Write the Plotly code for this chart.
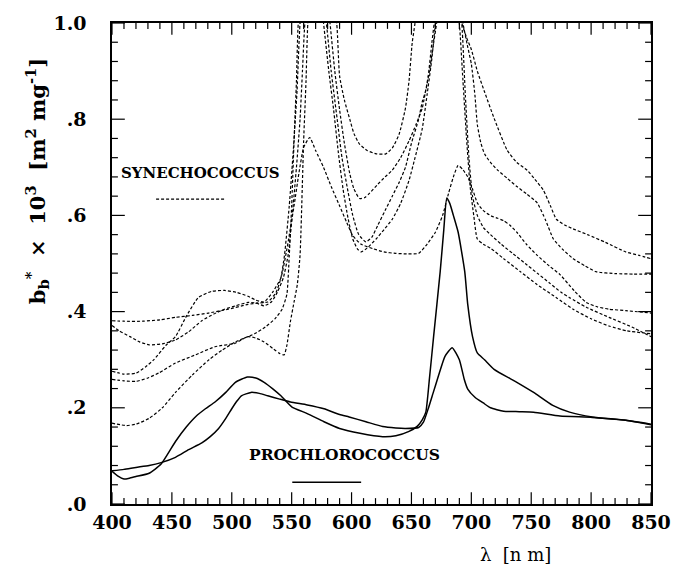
import plotly.graph_objects as go

# ---------------- data ----------------
# Prochlorococcus (solid)
pro1_x = [400,405,410,415,420,431,441,453,462,470,478,486,495,503,513,520,527,534,541,550,563,577,590,607,626,637,648,655,659,662,665,668.5,674,677,679.5,682,685,689,694.5,697,701,705,711,719,738,752,768,782,801,829,850]
pro1_y = [0.068,0.058,0.052,0.054,0.057,0.064,0.083,0.13,0.16,0.182,0.198,0.212,0.232,0.253,0.264,0.262,0.253,0.24,0.225,0.202,0.188,0.171,0.157,0.147,0.14,0.142,0.151,0.162,0.175,0.191,0.26,0.348,0.483,0.57,0.636,0.625,0.60,0.565,0.483,0.415,0.348,0.314,0.300,0.280,0.253,0.232,0.205,0.191,0.181,0.174,0.165]

pro2_x = [400,410,420,431,441,453,464,475,482,489,495,500,504,508,516,523,530,540,549,563,577,590,598,612,626,637,645,656,660,664,668,672.5,678,684,690,694,697,703,710,716,727,740,752,774,801,829,850]
pro2_y = [0.069,0.072,0.076,0.08,0.086,0.097,0.113,0.127,0.14,0.157,0.178,0.198,0.213,0.225,0.232,0.23,0.225,0.218,0.212,0.206,0.198,0.186,0.181,0.171,0.161,0.158,0.157,0.159,0.17,0.198,0.23,0.266,0.307,0.325,0.30,0.26,0.239,0.222,0.21,0.2,0.193,0.192,0.191,0.183,0.18,0.174,0.166]

# Synechococcus (dashed); values above 1.0 lie outside the plotted range
syn1_x = [400,410,420,430,439.5,453,469.6,486,502.6,513.5,520,527,535,540,543.7,546,549,552,554.7,557,560,562,563.5,573,587.6,590,594,598.5,602,606.7,613,620.5,628.7,634,639.6,645,648,650.6,653,665,692,696,700,705,711,719,730,738,746.6,753,760,766,771,778,785,797,812,829,840,850]
syn1_y = [0.259,0.256,0.255,0.262,0.273,0.293,0.31,0.327,0.334,0.348,0.345,0.337,0.322,0.313,0.31,0.33,0.38,0.42,0.456,0.517,0.755,0.88,1.0,1.25,1.0,0.89,0.84,0.80,0.77,0.748,0.735,0.728,0.728,0.74,0.768,0.823,0.88,0.958,1.0,1.25,1.0,0.97,0.945,0.90,0.857,0.802,0.735,0.71,0.694,0.675,0.653,0.62,0.592,0.58,0.572,0.56,0.544,0.524,0.517,0.51]

syn2_x = [400,406,415,423,431,442,453,464,475,485,494,503,513.5,520,527,533,538,543,547,550.5,554,557,559,561,571,582,586,590,594,598.5,602,606.7,611,615,622,628,634,641,648,654,659,664,667,669,680,693,697,700,703,705,708,711,716,722,730,738,746,755,762,768.5,776,785,795,804,820,835,850]
syn2_y = [0.371,0.36,0.348,0.337,0.331,0.333,0.341,0.358,0.381,0.395,0.405,0.412,0.419,0.418,0.412,0.42,0.44,0.47,0.517,0.60,0.70,0.80,0.9,1.0,1.25,1.0,0.9,0.82,0.75,0.687,0.655,0.635,0.637,0.646,0.665,0.68,0.694,0.72,0.755,0.79,0.823,0.89,0.958,1.0,1.25,1.0,0.95,0.915,0.85,0.789,0.75,0.728,0.71,0.694,0.677,0.66,0.645,0.626,0.59,0.551,0.53,0.51,0.495,0.483,0.479,0.478,0.478]

syn3_x = [400,410,420,428,435,445,453,462,472,483,494,504,513.5,520,527,534,541,546,552,556,560,565,570,576.6,583,590,596,601,608,617.7,627,637,646,656,663,670,676,681,685,689,693,697,701,705,710,716.5,722,727,732,738,746,755,765,774,786,796,805,815,829,850]
syn3_y = [0.276,0.27,0.272,0.285,0.30,0.33,0.348,0.39,0.429,0.442,0.444,0.44,0.432,0.424,0.42,0.44,0.47,0.53,0.62,0.687,0.741,0.762,0.735,0.70,0.66,0.62,0.585,0.558,0.54,0.531,0.524,0.521,0.52,0.521,0.54,0.565,0.60,0.646,0.68,0.704,0.695,0.68,0.655,0.626,0.61,0.599,0.594,0.589,0.58,0.565,0.54,0.517,0.495,0.477,0.443,0.419,0.41,0.405,0.402,0.397]

syn4_x = [400,410,425.7,440,453,467,480.6,497,513.5,522,530,537,541,544,548,551.5,554.5,557,567,579,583,588,592,597,601,606,612,617,622,628,634,640,645,650,656,659,662,665,668.5,671,681,692,695,698,701,705,710,716,725,735,745,755,765,775,782,796,815,834,850]
syn4_y = [0.381,0.38,0.38,0.383,0.388,0.392,0.397,0.405,0.415,0.418,0.42,0.44,0.47,0.517,0.62,0.74,0.86,1.0,1.25,1.0,0.9,0.8,0.72,0.65,0.60,0.56,0.545,0.555,0.58,0.61,0.64,0.67,0.70,0.75,0.80,0.836,0.86,0.9,0.958,1.0,1.25,1.0,0.85,0.72,0.64,0.60,0.575,0.56,0.54,0.52,0.50,0.48,0.46,0.44,0.429,0.409,0.388,0.368,0.348]

syn5_x = [400,412,420,431,442,453,467,481,492,503,519,528,536,542,546,548,550,552,554,555.5,566,576.6,581,585,589,593,597,601,605,608,613,620.5,627,634,641,648,653,659,663,667,670,680,690,693,696,699,702,705,710,716.5,727,741,755,771,785,800,815,830,850]
syn5_y = [0.168,0.163,0.166,0.178,0.2,0.232,0.268,0.30,0.32,0.337,0.354,0.368,0.385,0.405,0.436,0.517,0.62,0.755,0.88,1.0,1.25,1.0,0.90,0.82,0.73,0.653,0.595,0.551,0.53,0.524,0.532,0.551,0.57,0.592,0.625,0.673,0.72,0.78,0.85,0.925,1.0,1.25,1.0,0.88,0.76,0.66,0.60,0.551,0.54,0.531,0.51,0.483,0.456,0.429,0.405,0.385,0.37,0.36,0.354]

# y tick labels as printed (padded with no-break spaces to sit away from the axis)
PAD = "\u00a0\u00a0\u00a0"
y_label_alias = {"0.0": ".0" + PAD, "0.2": ".2" + PAD, "0.4": ".4" + PAD,
                 "0.6": ".6" + PAD, "0.8": ".8" + PAD, "1.0": "1.0" + PAD}

SERIF = "DejaVu Serif"
X_MIN, X_MAX = 400, 850
Y_MIN, Y_MAX = 0.0, 1.0
PLOT_W, PLOT_H = 547, 491   # plot area size in px (683-112-24, 578-13-74)

fig = go.Figure()

dashed = [(syn1_x, syn1_y), (syn2_x, syn2_y), (syn3_x, syn3_y), (syn4_x, syn4_y), (syn5_x, syn5_y)]
for xs, ys in dashed:
    fig.add_trace(go.Scatter(x=xs, y=ys, mode="lines",
                             line=dict(color="black", width=1.2, dash="3px,2px", shape="spline", smoothing=0.5),
                             showlegend=False, hoverinfo="skip"))
for xs, ys in [(pro1_x, pro1_y), (pro2_x, pro2_y)]:
    fig.add_trace(go.Scatter(x=xs, y=ys, mode="lines",
                             line=dict(color="black", width=1.5, shape="spline", smoothing=0.5),
                             showlegend=False, hoverinfo="skip"))

# inward tick marks on all four sides (major + minor), drawn as a line trace on the axes' scales
x_per_px = (X_MAX - X_MIN) / PLOT_W
y_per_px = (Y_MAX - Y_MIN) / PLOT_H
tx, ty = [], []
for k in range(0, 46):
    xv = X_MIN + 10 * k
    L = (12 if k % 5 == 0 else 6) * y_per_px
    tx += [xv, xv, None, xv, xv, None]
    ty += [Y_MIN, Y_MIN + L, None, Y_MAX, Y_MAX - L, None]
for k in range(0, 26):
    yv = round(Y_MIN + 0.04 * k, 4)
    L = (13 if k % 5 == 0 else 6) * x_per_px
    tx += [X_MIN, X_MIN + L, None, X_MAX, X_MAX - L, None]
    ty += [yv, yv, None, yv, yv, None]
fig.add_trace(go.Scatter(x=tx, y=ty, mode="lines", line=dict(color="black", width=1.2),
                         connectgaps=False, showlegend=False, hoverinfo="skip", cliponaxis=False))

# legend-like labels inside the plot
fig.add_annotation(x=473.7, y=0.689, xref="x", yref="y", text="SYNECHOCOCCUS", showarrow=False,
                   font=dict(family=SERIF, size=15, color="black", weight="bold"))
fig.add_annotation(x=594, y=0.103, xref="x", yref="y", text="PROCHLOROCOCCUS", showarrow=False,
                   font=dict(family=SERIF, size=15.5, color="black", weight="bold"))
sample_shapes = [
    dict(type="line", x0=436.8, x1=494.4, y0=0.634, y1=0.634, xref="x", yref="y",
         line=dict(color="black", width=1.2, dash="3px,2px")),
    dict(type="line", x0=550.5, x1=608, y0=0.0454, y1=0.0454, xref="x", yref="y",
         line=dict(color="black", width=1.5)),
]

# axis titles
fig.add_annotation(x=-0.14, y=0.67, xref="paper", yref="paper", xanchor="center", yanchor="middle",
                   textangle=-90,
                   text="b<sub>b</sub><sup>*</sup>  ×  10<sup>3</sup>  [m<sup>2</sup> mg<sup>-1</sup>]",
                   showarrow=False, font=dict(family=SERIF, size=21, color="black", weight="bold"))
fig.add_annotation(x=0.748, y=-0.104, xref="paper", yref="paper", xanchor="center", yanchor="middle",
                   text="λ  [n m]",
                   showarrow=False, font=dict(family=SERIF, size=18, color="black"))

fig.update_xaxes(range=[X_MIN, X_MAX], tick0=400, dtick=50, showline=True, linecolor="black", linewidth=1.5,
                 mirror=True, ticks="", showgrid=False, zeroline=False,
                 tickfont=dict(family=SERIF, size=19, color="black", weight="bold"))
fig.update_yaxes(range=[Y_MIN, Y_MAX], tick0=0, dtick=0.2, tickformat=".1f", labelalias=y_label_alias,
                 showline=True, linecolor="black", linewidth=1.5,
                 mirror=True, ticks="", showgrid=False, zeroline=False,
                 tickfont=dict(family=SERIF, size=19, color="black", weight="bold"))

fig.update_layout(width=683, height=578, margin=dict(l=112, r=24, t=13, b=74),
                  plot_bgcolor="white", shapes=sample_shapes)

fig.write_html("out.html")
